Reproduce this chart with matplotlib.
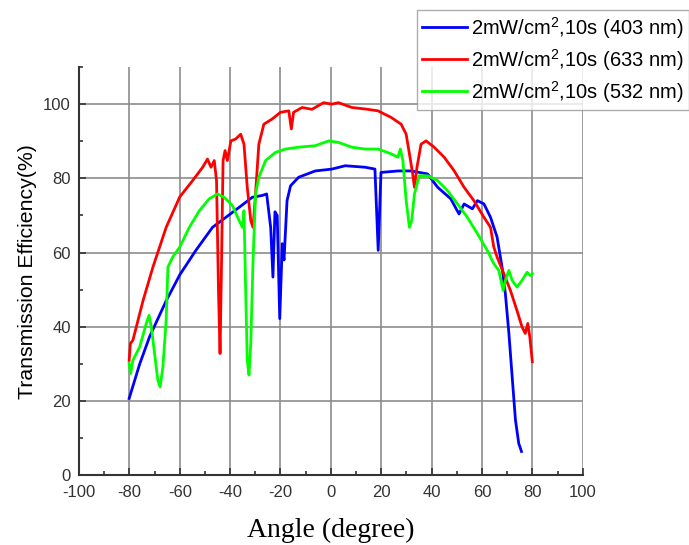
import matplotlib
matplotlib.use("Agg")
import matplotlib.pyplot as plt
from matplotlib.ticker import MultipleLocator

# 403 nm (blue)
blue_x = [-80.1, -75.9, -72, -65.4, -60, -53.6, -47, -41.7, -36.4, -31.2, -27.2, -25.5,
          -23.9, -23, -22.2, -21.3, -20.3, -19.3, -18.6, -17.4, -16, -12.8, -6.2, 0.4,
          5.7, 13.6, 17.5, 18.8, 19.9, 26.7, 31.8, 38.4, 42.4, 47.6, 50.9, 52.9, 56.2,
          58.2, 60.8, 63.4, 66, 68, 69.3, 70.7, 72, 73.3, 74.6, 75.7]
blue_y = [20.7, 30, 37.3, 47, 54, 60.6, 66.8, 69.5, 72.2, 74.9, 75.4, 75.8,
          66.8, 53.4, 71, 70, 42.2, 62.4, 58, 74, 78, 80.3, 82, 82.5,
          83.4, 83, 82.5, 60.6, 81.6, 82, 82, 81.2, 77.6, 74.5, 70.4, 73.1, 71.8,
          74, 73.1, 69.5, 64.2, 56, 48.9, 38.2, 26.5, 14.9, 8.6, 6.4]

# 633 nm (red)
red_x = [-80.1, -79.6, -78.6, -74.6, -70.7, -65.4, -60, -54.9, -50.9, -49, -47.6, -46.3,
         -45.4, -44.6, -44, -43.4, -42.8, -42, -41.1, -39.7, -37.8, -35.8, -34.5, -33.2,
         -31.8, -30.9, -30.1, -28.6, -26.6, -23.3, -20, -16.7, -15.7, -14.8, -11.4, -7.5,
         -2.9, 0.4, 3, 8.3, 13.6, 18.7, 24, 27.9, 29.9, 31.2, 32.5, 33.2, 34.2, 35.8,
         37.8, 41, 45, 48.9, 52.9, 56.8, 60.8, 63.4, 64.7, 66, 68.7, 71.3, 73.9, 75.9,
         77.2, 78.2, 79, 80]
red_y = [31, 35.5, 36.4, 47, 56, 66.8, 75, 79.4, 83, 85.2, 83, 84.8,
         79.4, 49, 32.8, 57.9, 84.8, 87.5, 84.8, 90.1, 90.6, 91.9, 89.2, 77.6,
         68.6, 66.8, 74, 89.2, 94.6, 96, 97.8, 98.2, 93.3, 97.8, 99.1, 98.6,
         100.4, 100, 100.4, 99.1, 98.7, 98.2, 96.4, 94.6, 91.9, 86.6, 81.2, 77.6, 83, 89.2,
         90.1, 88.4, 85.7, 82.1, 77.6, 74, 69.5, 66.8, 61.5, 58.8, 54.3, 49.8, 44.4, 40,
         38.2, 40.9, 37.3, 30.6]

# 532 nm (green)
green_x = [-80.1, -79.5, -78.6, -75.9, -73.3, -72.2, -71.3, -70, -68.7, -67.8, -66.7, -65.4,
           -64.7, -62.8, -60, -56.2, -52.2, -48.3, -45, -42.4, -39.1, -36.4, -35.1, -34.5,
           -33.8, -33.2, -32.5, -31.8, -30.9, -29.9, -28.6, -25.9, -22, -18, -12.8, -6.2,
           -0.9, 3, 8.3, 13.6, 18.7, 24, 26.6, 27.6, 28.6, 29.9, 31.2, 32.1, 33.2, 35.1,
           38.4, 42.4, 46.3, 50.3, 54.2, 58.2, 62.1, 64.7, 66.7, 68.4, 69.3, 70.7, 72,
           73.9, 75.9, 77.9, 79.2, 80]
green_y = [30.1, 27.4, 31, 34.6, 40.9, 43.1, 40, 32.8, 25.6, 23.8, 29.2, 41.8,
           56.1, 58.8, 61.5, 66.8, 71.3, 74.5, 75.8, 74.9, 72.7, 68.6, 66.8, 71.3,
           48.9, 31, 27, 35.5, 57.9, 75.8, 80.3, 84.8, 87, 87.9, 88.4, 88.8,
           90.1, 89.7, 88.4, 87.9, 87.9, 86.6, 85.7, 87.9, 84.8, 74, 66.8, 68.6, 75.8, 80.7,
           80.7, 79.4, 76.7, 73.1, 69.5, 65.1, 60.6, 57, 55.2, 49.8, 52.5, 55.2, 52.5,
           50.7, 52.5, 54.7, 53.8, 54.3]

labels = ['2mW/cm$^2$,10s (403 nm)', '2mW/cm$^2$,10s (633 nm)', '2mW/cm$^2$,10s (532 nm)']

plt.rcParams['font.family'] = ['Liberation Sans', 'DejaVu Sans']
plt.rcParams['axes.unicode_minus'] = False
plt.rcParams['mathtext.fontset'] = 'custom'
plt.rcParams['mathtext.rm'] = 'Liberation Sans'
plt.rcParams['mathtext.it'] = 'Liberation Sans:italic'
plt.rcParams['mathtext.bf'] = 'Liberation Sans:bold'

fig = plt.figure(figsize=(6.89, 5.45), dpi=100)
ax = fig.add_axes([0.1147, 0.128, 0.731, 0.749])

ax.plot(blue_x, blue_y, color='#0000ff', lw=2.0, label=labels[0])
ax.plot(red_x, red_y, color='#ff0000', lw=2.0, label=labels[1])
ax.plot(green_x, green_y, color='#00ff00', lw=2.0, label=labels[2])

ax.set_xlim(-100, 100)
ax.set_ylim(0, 110)
ax.xaxis.set_major_locator(MultipleLocator(20))
ax.xaxis.set_minor_locator(MultipleLocator(10))
ax.yaxis.set_minor_locator(MultipleLocator(10))
ax.set_yticks([0, 20, 40, 60, 80, 100])
ax.grid(True, which='major', color='#8c8c8c', lw=1.2)
ax.set_axisbelow(True)
ax.spines['top'].set_visible(False)
ax.spines['right'].set_visible(False)
for s in ('left', 'bottom'):
    ax.spines[s].set_color('#333333')
    ax.spines[s].set_linewidth(1.5)
ax.tick_params(which='major', direction='in', length=5, width=1.2, color='#333333',
               labelsize=12, labelcolor='#333333')
ax.tick_params(axis='x', which='major', pad=7)
ax.tick_params(axis='y', which='major', pad=6)
ax.tick_params(which='minor', direction='in', length=3, width=1.2, color='#333333')

ax.set_xlabel('Angle (degree)', family='Liberation Serif', fontsize=20, labelpad=13)
ax.set_ylabel('Transmission Efficiency(%)', fontsize=15.3, labelpad=4)

leg = fig.legend(loc='upper right', bbox_to_anchor=(1.0, 0.982), fontsize=14.5,
                 frameon=True, fancybox=False, handlelength=2.25, handletextpad=0.2,
                 borderpad=0.25, labelspacing=0.3, borderaxespad=0)
leg.get_frame().set_edgecolor('#999999')
leg.get_frame().set_linewidth(1.0)

fig.savefig('out.png', dpi=100)
